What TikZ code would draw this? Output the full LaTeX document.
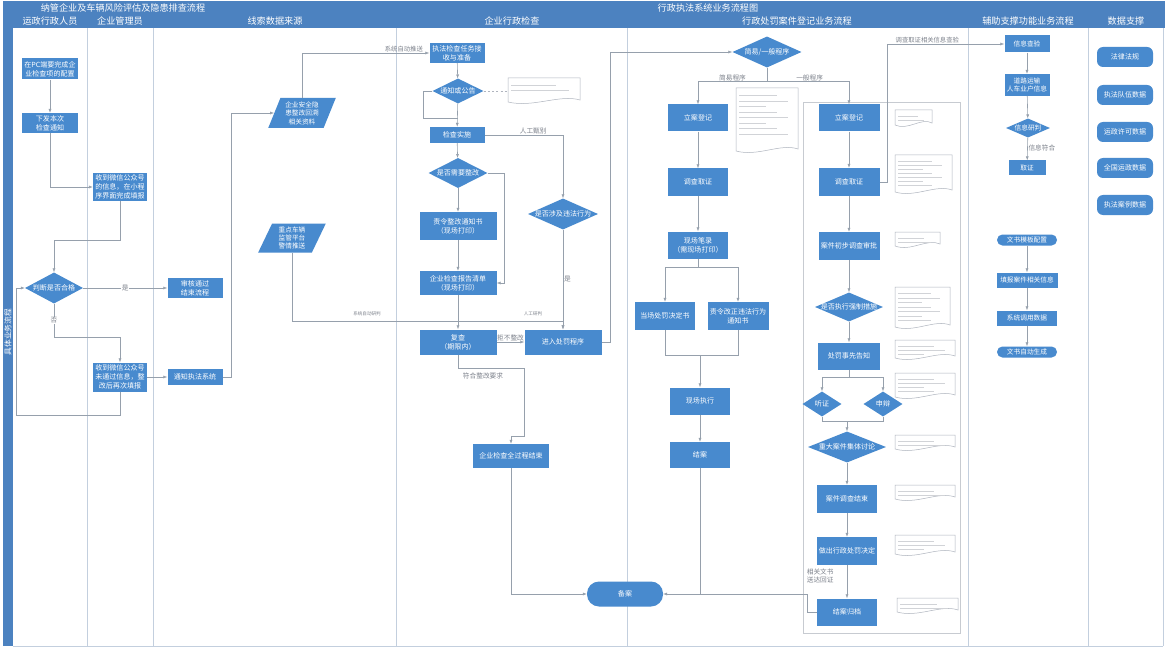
\documentclass[tikz,border=0pt]{standalone}
\usepackage{fontspec}
\setmainfont{Noto Sans CJK SC}
\usepackage{xcolor}
\usepackage{tikz}
\usetikzlibrary{arrows.meta,positioning,shapes.geometric,calc}

\definecolor{hdrblue}{RGB}{76,130,192}
\definecolor{boxblue}{RGB}{72,138,206}
\definecolor{lanegray}{RGB}{195,207,222}
\definecolor{wiregray}{RGB}{150,160,172}
\definecolor{lblgray}{RGB}{125,130,140}
\definecolor{notegray}{RGB}{175,180,190}

% text that may run past the diamond
\newcommand{\ctr}[1]{\makebox[0pt]{#1}}
% document shape: x, y, w, h, lines, spacing
\newcommand{\docnote}[6]{%
  \draw[notebox] (#1,#2) -- ({#1+#3},#2) -- ({#1+#3},{#2+#4-3})
     .. controls ({#1+0.72*#3},{#2+#4-9}) and ({#1+0.35*#3},{#2+#4+5}) .. (#1,{#2+#4-1}) -- cycle;
  \foreach \i in {1,...,#5}
     \draw[notetext] ({#1+3},{#2+2+#6*\i}) -- ++({(#3-8)*(0.5+0.2*mod(\i,3))},0);
}

\begin{document}
\begin{tikzpicture}[x=0.5mm, y=-0.5mm,
    procbox/.style={rectangle, fill=boxblue, text=white, align=center, inner sep=1pt,
        font=\fontsize{10}{12.5}\selectfont},
    decision/.style={diamond, fill=boxblue, text=white, inner sep=0pt,
        font=\fontsize{10}{12}\selectfont},
    datain/.style={trapezium, trapezium left angle=68, trapezium right angle=112,
        trapezium stretches=true, fill=boxblue, text=white, align=center, inner sep=0.5pt,
        font=\fontsize{9.5}{12}\selectfont},
    termnode/.style={rectangle, rounded corners=6mm, fill=boxblue, text=white,
        font=\fontsize{10}{12}\selectfont},
    auxbox/.style={procbox, font=\fontsize{9.5}{11}\selectfont},
    pillbox/.style={rectangle, rounded corners=2.7mm, fill=boxblue, text=white, inner sep=0pt,
        minimum width=30mm, minimum height=5.5mm, font=\fontsize{9.5}{11}\selectfont},
    databox/.style={rectangle, rounded corners=3mm, fill=boxblue, text=white,
        minimum width=28mm, minimum height=10mm, font=\fontsize{10}{12}\selectfont},
    lane/.style={draw=lanegray, line width=0.45mm},
    wireline/.style={draw=wiregray, line width=0.3mm},
    wire/.style={wireline, -{Latex[length=2mm,width=1.5mm]}},
    lbl/.style={font=\fontsize{9.5}{11}\selectfont, text=lblgray, inner sep=1pt},
    tinylbl/.style={font=\fontsize{6.5}{7}\selectfont, text=lblgray, inner sep=1pt},
    wlabel/.style={lbl, fill=white},
    hdr/.style={text=white, font=\fontsize{13}{15}\selectfont, inner sep=0pt},
    notebox/.style={draw=notegray, fill=white, line width=0.25mm},
    notetext/.style={draw=lblgray!35, line width=0.3mm}
]
    \useasboundingbox (0,0) rectangle (1168,649);
    \fill[white] (0,0) rectangle (1168,649);

    % frame and headers
    \fill[hdrblue] (3,1) rectangle (1165,28);
    \fill[hdrblue] (3,28) rectangle (13,646);
    \node[hdr] (ttlleft) at (123,8) {纳管企业及车辆风险评估及隐患排查流程};
    \node[hdr] (ttlright) at (708,8) {行政执法系统业务流程图};
    \node[hdr] (hdrstaff) at (50,21) {运政行政人员};
    \node[hdr] (hdrmgr) at (120,21) {企业管理员};
    \node[hdr] (hdrclue) at (275,21) {线索数据来源};
    \node[hdr] (hdrinsp) at (512,21) {企业行政检查};
    \node[hdr] (hdrcase) at (797,21) {行政处罚案件登记业务流程};
    \node[hdr] (hdraux) at (1028,21) {辅助支撑功能业务流程};
    \node[hdr] (hdrdata) at (1126,21) {数据支撑};
    \node[hdr, rotate=90, font=\fontsize{11}{13}\selectfont] (sidettl) at (8,332) {具体业务流程};

    \draw[lane] (87,28) -- (87,646) (153,28) -- (153,646) (396,28) -- (396,646)
        (627,28) -- (627,646) (968,28) -- (968,646) (1088,28) -- (1088,646)
        (1163,28) -- (1163,646) (13,646) -- (1163,646);
    \draw[draw=notegray!70, line width=0.3mm] (803,102) rectangle (960,633);

    % enterprise self check
    \node[procbox, minimum width=27.5mm, minimum height=10.5mm] (pcset) at (50,69) {在PC端要完成企\\业检查项的配置};
    \node[procbox, minimum width=27.5mm, minimum height=10mm] (notice) at (50,123) {下发本次\\检查通知};
    \node[procbox, minimum width=27mm, minimum height=14mm, font=\fontsize{10}{13}\selectfont] (fillin) at (120,187) {收到微信公众号\\的信息，在小程\\序界面完成填报};
    \node[decision, minimum width=29mm, minimum height=15.5mm] (qualified) at (54,288) {\ctr{判断是否合格}};
    \node[procbox, minimum width=27.5mm, minimum height=10mm] (passend) at (195,288) {审核通过\\结束流程};
    \node[procbox, minimum width=27mm, minimum height=14.5mm, font=\fontsize{10}{13}\selectfont] (refill) at (120,377) {收到微信公众号\\未通过信息，整\\改后再次填报};
    \node[procbox, minimum width=27.5mm, minimum height=8mm] (tolaw) at (195,377) {通知执法系统};

    \draw[wire] (pcset) -- (notice);
    \draw[wire] (notice.south) |- (fillin.west);
    \draw[wire] (fillin.south) -- ++(0,39) -| (qualified.north);
    \draw[wire] (qualified) -- node[wlabel]{是} (passend);
    \draw[wire] (qualified.south) -- node[wlabel]{否} ++(0,34) -| (refill.north);
    \draw[wire] (refill) -- (tolaw);
    \draw[wire] (refill.south) -- ++(0,24) -| ($(qualified.west)+(-9,0)$) -- (qualified.west);

    % clue sources
    \node[datain, minimum width=34mm, minimum height=15mm] (rectify) at (302,113) {企业安全隐\\患整改回溯\\相关资料};
    \node[datain, minimum width=34mm, minimum height=14.5mm] (alarm) at (292,238) {重点车辆\\监管平台\\警情推送};

    % enterprise inspection
    \node[procbox, minimum width=27.5mm, minimum height=10mm] (taskrecv) at (457,53) {执法检查任务接\\收与准备};
    \node[decision, minimum width=25.5mm, minimum height=12.5mm] (announce) at (458,91) {\ctr{通知或公告}};
    \node[procbox, minimum width=27.5mm, minimum height=8mm] (inspect) at (457,135) {检查实施};
    \node[decision, minimum width=29.5mm, minimum height=15mm] (needfix) at (458,173) {\ctr{是否需要整改}};
    \node[procbox, minimum width=38.5mm, minimum height=14mm] (fixorder) at (458,226) {责令整改通知书\\（现场打印）};
    \node[procbox, minimum width=38.5mm, minimum height=12mm] (report) at (458,283) {企业检查报告清单\\（现场打印）};
    \node[procbox, minimum width=38.5mm, minimum height=12.5mm] (recheck) at (458,342) {复查\\（期限内）};
    \node[decision, minimum width=35mm, minimum height=15.5mm] (illegal) at (563,214) {\ctr{是否涉及违法行为}};
    \node[procbox, minimum width=38.5mm, minimum height=12.5mm] (penalty) at (563,342) {进入处罚程序};
    \node[procbox, minimum width=38mm, minimum height=12mm] (inspend) at (511,456) {企业检查全过程结束};
    \node[termnode, minimum width=38mm, minimum height=12.5mm] (filed) at (625,594) {备案};
    \coordinate (annnote) at (508,91);
    \docnote{508}{78}{72}{25}{2}{5}

    \draw[wire] (tolaw.east) -- ++(9,0) |- (rectify.west);
    \draw[wire] (rectify.north) |- node[lbl, above, pos=0.9, font=\fontsize{9}{10}\selectfont]{系统自动推送} (taskrecv.west);
    \draw[wire] (alarm.south) |- (563,321) -- (penalty.north);
    \node[tinylbl] (autojudge) at (367,314) {系统自动研判};
    \node[tinylbl] (manjudge) at (533,314) {人工研判};
    \draw[wire] (taskrecv) -- (announce);
    \draw[notegray, dashed, line width=0.3mm] (announce.east) -- (annnote);
    \draw[wire] (announce) -- (inspect);
    \draw[wireline] (announce.west) -- ++(-9,0) |- ($(announce.south)+(0,15)$);
    \draw[wire] (inspect.east) -| node[lbl, above, pos=0.31]{人工甄别} (illegal.north);
    \draw[wire] (inspect) -- (needfix);
    \draw[wire] (needfix) -- (fixorder);
    \draw[wire] (needfix.east) -- ++(17,0) |- (report.east);
    \draw[wire] (fixorder) -- (report);
    \draw[wire] (report) -- (recheck);
    \draw[wire] (recheck) -- node[lbl, above]{拒不整改} (penalty);
    \draw[wire] (illegal) -- node[lbl, right]{是} (penalty);
    \draw[wire] (recheck.south) -- ++(0,14) -| ++(66,68) -| (inspend.north);
    \node[lbl] (meetreq) at (483,376) {符合整改要求};
    \draw[wire] (inspend.south) |- (filed.west);

    % penalty cases
    \node[decision, minimum width=34.5mm, minimum height=15.5mm] (procsel) at (767,52) {\ctr{简易/一般程序}};
    \node[procbox, minimum width=30mm, minimum height=13.5mm] (simreg) at (698,118) {立案登记};
    \node[procbox, minimum width=30mm, minimum height=13.5mm] (simsurvey) at (698,182) {调查取证};
    \node[procbox, minimum width=30mm, minimum height=13.5mm] (sitenote) at (698,245) {现场笔录\\（需现场打印）};
    \node[procbox, minimum width=30mm, minimum height=14mm] (sitedecide) at (665,316) {当场处罚决定书};
    \node[procbox, minimum width=30.5mm, minimum height=14mm] (correct) at (738,316) {责令改正违法行为\\通知书};
    \node[procbox, minimum width=30mm, minimum height=13.5mm] (execute) at (700,401) {现场执行};
    \node[procbox, minimum width=30mm, minimum height=13mm] (closecase) at (700,455) {结案};
    \coordinate (merge) at (700,355);
    \docnote{736}{88}{62}{64}{8}{5.5}
    \draw[wire] (penalty.east) -- ++(9,0) |- (procsel.west);

    \node[procbox, minimum width=30.5mm, minimum height=13.5mm] (genreg) at (849,118) {立案登记};
    \node[procbox, minimum width=30.5mm, minimum height=14mm] (gensurvey) at (849,182) {调查取证};
    \node[procbox, minimum width=30.5mm, minimum height=14mm] (approve) at (849,246) {案件初步调查审批};
    \node[decision, minimum width=34mm, minimum height=14.5mm] (force) at (849,307) {\ctr{是否执行强制措施}};
    \node[procbox, minimum width=31mm, minimum height=13.5mm] (inform) at (849,356) {处罚事先告知};
    \node[decision, minimum width=19.5mm, minimum height=12.5mm] (hearing) at (822,404) {听证};
    \node[decision, minimum width=19.5mm, minimum height=12.5mm] (defend) at (883,404) {申辩};
    \coordinate (merge2) at (847,422);
    \node[decision, minimum width=39mm, minimum height=15.5mm] (major) at (847,447) {\ctr{重大案件集体讨论}};
    \node[procbox, minimum width=30mm, minimum height=14mm] (surveyend) at (847,499) {案件调查结束};
    \node[procbox, minimum width=30mm, minimum height=14mm] (decide) at (847,551) {做出行政处罚决定};
    \node[procbox, minimum width=30mm, minimum height=13.5mm] (archive) at (847,612) {结案归档};
    \node[lbl, align=left, anchor=west, font=\fontsize{9.5}{12}\selectfont] (delivery) at (806,576) {相关文书\\送达回证};
    \docnote{895}{110}{37}{16}{2}{4}
    \docnote{895}{155}{57}{38}{7}{4}
    \docnote{895}{232}{45}{15}{2}{4}
    \docnote{895}{287}{55}{41}{7}{4.5}
    \docnote{895}{340}{60}{19}{3}{4}
    \docnote{895}{373}{60}{25}{4}{4}
    \docnote{895}{435}{60}{15}{2}{4}
    \docnote{895}{485}{60}{15}{2}{4}
    \docnote{895}{535}{60}{20}{3}{4}
    \docnote{897}{598}{61}{15}{2}{4}

    \draw[wire] (procsel.south) -- ++(0,14) -| node[lbl, above, pos=0.25]{简易程序} (simreg.north);
    \draw[wire] (procsel.south) -- ++(0,14) -| node[lbl, above, pos=0.26]{一般程序} (genreg.north);
    \draw[wire] (simreg) -- (simsurvey);
    \draw[wire] (simsurvey) -- (sitenote);
    \draw[wire] (sitenote.south) -- ++(0,9) -| (sitedecide.north);
    \draw[wire] (sitenote.south) -- ++(0,9) -| (correct.north);
    \draw[wireline] (sitedecide.south) -- ++(0,25) -| (correct.south);
    \draw[wire] (merge) -- (execute);
    \draw[wire] (execute) -- (closecase);
    \draw[wireline] (closecase.south) -- (closecase.south |- filed.east);
    \draw[wire] (archive.west) -- ++(-10,0) |- (filed.east);

    \draw[wire] (genreg) -- (gensurvey);
    \draw[wire] (gensurvey) -- (approve);
    \draw[wire] (approve) -- (force);
    \draw[wire] (force) -- (inform);
    \draw[wire] (inform.south) -- ++(0,8) -| (hearing.north);
    \draw[wire] (inform.south) -- ++(0,8) -| (defend.north);
    \draw[wireline] (hearing.south) -- ++(0,5) -| (defend.south);
    \draw[wire] (merge2) -- (major);
    \draw[wire] (major) -- (surveyend);
    \draw[wire] (surveyend) -- (decide);
    \draw[wire] (decide) -- (archive);

    % support functions
    \node[auxbox, minimum width=22.5mm, minimum height=8.5mm] (infocheck) at (1027,44) {信息查验};
    \node[auxbox, minimum width=22.5mm, minimum height=11mm] (roadinfo) at (1027,85) {道路运输\\人车业户信息};
    \node[decision, minimum width=22mm, minimum height=9.5mm, font=\fontsize{9.5}{11}\selectfont] (judge) at (1028,128) {\ctr{信息研判}};
    \node[auxbox, minimum width=18.5mm, minimum height=7.5mm] (evidence) at (1027,168) {取证};
    \node[pillbox] (tplcfg) at (1027,240) {文书模板配置};
    \node[auxbox, minimum width=30.5mm, minimum height=7.5mm] (fillcase) at (1027,280) {填报案件相关信息};
    \node[auxbox, minimum width=30mm, minimum height=7.5mm] (callsys) at (1027,318) {系统调用数据};
    \node[pillbox] (autogen) at (1027,352) {文书自动生成};

    \draw[wire] (gensurvey.east) -- ++(8,0) |- node[lbl, above, pos=0.67, font=\fontsize{9}{10}\selectfont]{调查取证相关信息查验} (infocheck.west);
    \draw[wire] (infocheck) -- (roadinfo);
    \draw[wire] (roadinfo) -- (judge);
    \draw[wire] (judge) -- node[lbl, right, pos=0.45]{信息符合} (evidence);
    \draw[wire] (tplcfg) -- (fillcase);
    \draw[wire] (fillcase) -- (callsys);
    \draw[wire] (callsys) -- (autogen);

    % data support
    \node[databox] (law) at (1125,57) {法律法规};
    \node[databox] (team) at (1125,95) {执法队伍数据};
    \node[databox] (permit) at (1125,132) {运政许可数据};
    \node[databox] (national) at (1125,168) {全国运政数据};
    \node[databox] (cases) at (1125,205) {执法案例数据};
\end{tikzpicture}
\end{document}
